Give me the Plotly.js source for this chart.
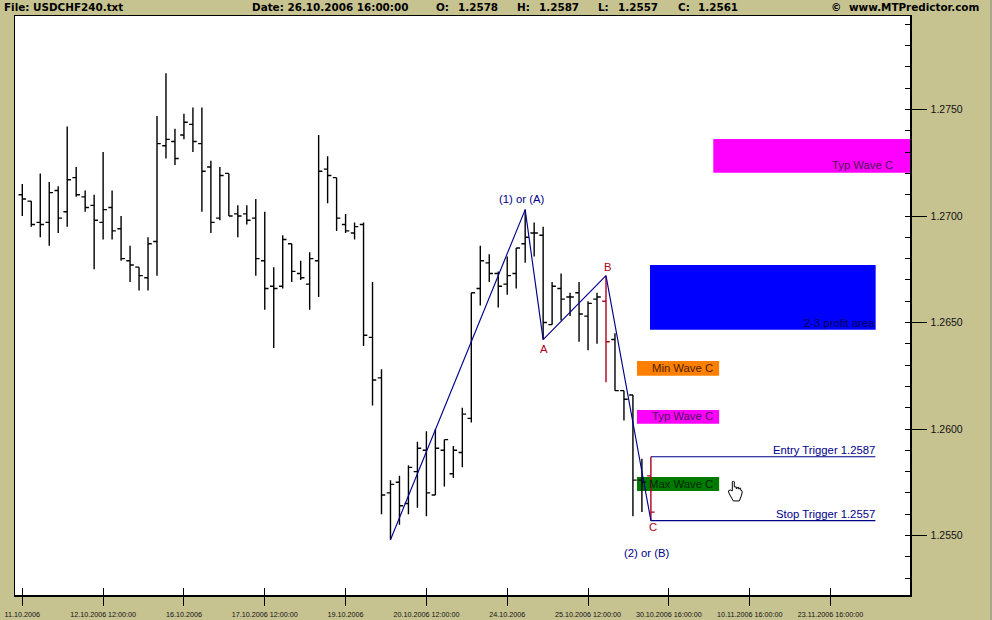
<!DOCTYPE html>
<html><head><meta charset="utf-8">
<script src="https://cdn.plot.ly/plotly-3.0.1.min.js"></script>
<style>html,body{margin:0;padding:0;background:#C7C391;overflow:hidden}#c{width:992px;height:620px}</style>
</head><body><div id="c"></div>
<script>
// OHLC, one entry per bar
const opens = [1.2710,1.2707,1.2697,1.2697,1.2712,1.2702,1.2718,1.2709,1.2705,1.2697,1.2704,1.2694,1.2679,1.2676,1.2671,1.2688,1.2733,1.2735,1.2738,1.2743,1.2734,1.2723,1.2699,1.2720,1.2701,1.2701,1.2699,1.2679,1.2667,1.2667,1.2687,1.2673,1.2668,1.2679,1.2722,1.2718,1.2696,1.2692,1.2696,1.2643,1.2624,1.2570,1.2575,1.2565,1.2580,1.2590,1.2569,1.2590,1.2579,1.2589,1.2605,1.2666,1.2678,1.2673,1.2668,1.2673,1.2687,1.2692,1.2691,1.2649,1.2666,1.2662,1.2664,1.2653,1.2661,1.2660,1.2642,1.2618,1.2616,1.2576,1.2578];
const highs = [1.2715,1.2707,1.2720,1.2716,1.2714,1.2742,1.2723,1.2712,1.2710,1.2730,1.2712,1.2700,1.2686,1.2676,1.2690,1.2747,1.2767,1.2741,1.2748,1.2751,1.2751,1.2726,1.2723,1.2720,1.2705,1.2705,1.2708,1.2702,1.2676,1.2691,1.2687,1.2679,1.2683,1.2738,1.2728,1.2718,1.2701,1.2697,1.2697,1.2669,1.2628,1.2576,1.2578,1.2583,1.2594,1.2599,1.2600,1.2595,1.2592,1.2610,1.2664,1.2686,1.2682,1.2674,1.2681,1.2685,1.2703,1.2697,1.2695,1.2669,1.2673,1.2664,1.2669,1.2660,1.2664,1.2672,1.2645,1.2618,1.2616,1.2586,1.2587];
const lows  = [1.2700,1.2695,1.2690,1.2686,1.2692,1.2695,1.2709,1.2702,1.2675,1.2689,1.2689,1.2679,1.2669,1.2665,1.2665,1.2672,1.2727,1.2724,1.2736,1.2730,1.2702,1.2692,1.2698,1.2700,1.2690,1.2696,1.2672,1.2656,1.2638,1.2666,1.2669,1.2670,1.2656,1.2662,1.2706,1.2693,1.2692,1.2689,1.2639,1.2611,1.2560,1.2548,1.2555,1.2560,1.2563,1.2559,1.2569,1.2573,1.2577,1.2582,1.2603,1.2658,1.2669,1.2657,1.2663,1.2666,1.2678,1.2681,1.2642,1.2649,1.2651,1.2653,1.2641,1.2637,1.2640,1.2622,1.2618,1.2604,1.2559,1.2561,1.2557];
const closes= [1.2708,1.2696,1.2696,1.2711,1.2699,1.2717,1.2710,1.2704,1.2698,1.2703,1.2693,1.2680,1.2677,1.2672,1.2687,1.2734,1.2736,1.2727,1.2744,1.2735,1.2721,1.2697,1.2719,1.2700,1.2700,1.2698,1.2680,1.2666,1.2666,1.2689,1.2674,1.2671,1.2680,1.2721,1.2719,1.2699,1.2693,1.2695,1.2644,1.2623,1.2569,1.2574,1.2564,1.2582,1.2591,1.2570,1.2591,1.2595,1.2590,1.2607,1.2664,1.2679,1.2673,1.2667,1.2672,1.2685,1.2690,1.2692,1.2650,1.2667,1.2661,1.2662,1.2654,1.2659,1.2662,1.2641,1.2618,1.2614,1.2576,1.2575,1.2561];
const redBars = [65,70];

const tickIndex = [0,9,18,27,36,45,54,63,72,81,90];
const tickDates = ['11.10.2006','12.10.2006 12:00:00','16.10.2006','17.10.2006 12:00:00','19.10.2006','20.10.2006 12:00:00','24.10.2006','25.10.2006 12:00:00','30.10.2006 16:00:00','10.11.2006 16:00:00','23.11.2006 16:00:00'];

const waveX = [41,56,58,65,70];
const waveY = [1.2548,1.2703,1.2642,1.2672,1.2557];
const triggerX = [70,95];
const entryPrice = 1.2587;
const stopPrice = 1.2557;

const zoneNames = ['Typ Wave C','2-3 profit area','Min Wave C','Typ Wave C','Max Wave C'];
const zoneStart = [76.95,69.9,68.45,68.45,68.45];
const zoneEnd   = [110,95.03,77.6,77.6,77.6];
const zoneHigh  = [1.27362,1.26770,1.26319,1.26089,1.25775];
const zoneLow   = [1.27203,1.26466,1.26250,1.26025,1.25709];
const zoneColors= ['#FF00FF','#0000FF','#FF8000','#FF00FF','#007A00'];
const zoneInk   = ['#4A1A55','#000050','#4A1E00','#4A1A55','#002800'];
const zoneTextEnd=[97.1,95.1,77.0,77.0,77.0];
const zoneTextY = [1.27239,1.26500,1.26286,1.26059,1.25742];

const noteText = ['(1) or (A)','(2) or (B)','Entry Trigger 1.2587','Stop Trigger 1.2557'];
const noteX = [55.6,69.5,95.1,95.1];
const noteY = [1.27080,1.25418,1.25901,1.25603];
const noteAnchor = ['center','center','right','right'];
const waveLetters = ['A','B','C'];
const letterX = [58.1,65.2,70.2];
const letterY = [1.26376,1.26761,1.25540];

const headerText = ['File: USDCHF240.txt','Date: 26.10.2006 16:00:00','O:','1.2578','H:','1.2587','L:','1.2557','C:','1.2561','©','www.MTPredictor.com'];
const headerPx = [3,251,435,457,516,538,597,617,677,697,830,848];

const NAVY='#00008B', RED='#B00020', BG='#C7C391';
const black = {x:[],o:[],h:[],l:[],c:[]}, red = {x:[],o:[],h:[],l:[],c:[]};
opens.forEach((v,i)=>{const t=redBars.includes(i)?red:black;t.x.push(i);t.o.push(v);t.h.push(highs[i]);t.l.push(lows[i]);t.c.push(closes[i]);});
const ohlc=(t,col)=>({type:'ohlc',x:t.x,open:t.o,high:t.h,low:t.l,close:t.c,tickwidth:0.42,hoverinfo:'skip',
  increasing:{line:{color:col,width:1.4}},decreasing:{line:{color:col,width:1.4}}});

const data=[
 ohlc(black,'#000000'),
 ohlc(red,RED),
 {type:'scatter',mode:'lines',x:waveX,y:waveY,line:{color:NAVY,width:1.15},hoverinfo:'skip'},
 {type:'scatter',mode:'lines',x:triggerX,y:[entryPrice,entryPrice],line:{color:NAVY,width:1.1},hoverinfo:'skip'},
 {type:'scatter',mode:'lines',x:triggerX,y:[stopPrice,stopPrice],line:{color:NAVY,width:1.1},hoverinfo:'skip'},
 {type:'scatter',mode:'markers',x:[0],y:[1.26],xaxis:'x2',yaxis:'y2',marker:{opacity:0,size:1},hoverinfo:'skip'}
];

const xRange=[-0.813,98.854], yRange=[1.252207,1.279390];
const shapes=zoneNames.map((n,i)=>({type:'rect',layer:'below',xref:'x',yref:'y',x0:zoneStart[i],x1:zoneEnd[i],y0:zoneLow[i],y1:zoneHigh[i],fillcolor:zoneColors[i],line:{width:0}}));
// mouse pointer hand
shapes.push({type:'path',xref:'x',yref:'y',xsizemode:'pixel',ysizemode:'pixel',xanchor:79.4,yanchor:1.25714,
  path:'M-3,-1 L-3,8 Q-2,10 -1,8 L-1,3 L1,3 L1,1 L3,3 L3,1 L5,2 L5,0 L6,0 L7,-2 L6,-6 L4,-11 L-2,-11 L-6,-4 L-7,-1 L-5,0 Z',
  fillcolor:'#FFFFFF',line:{color:'#000000',width:1},layer:'above'});
shapes.push({type:'line',xref:'paper',yref:'paper',x0:(991-15)/895,x1:(991-15)/895,y0:-25/579,y1:1+16/579,line:{color:'#8A8A80',width:1}});

const annotations=[];
const ann=(text,x,y,anchor,color)=>annotations.push({text,x,y,xref:'x',yref:'y',xanchor:anchor,yanchor:'middle',showarrow:false,borderpad:0,font:{family:'Liberation Sans, Arial, sans-serif',size:11.3,color}});
zoneNames.forEach((n,i)=>ann(n,zoneTextEnd[i],zoneTextY[i],'right',zoneInk[i]));
noteText.forEach((n,i)=>ann(n,noteX[i],noteY[i],noteAnchor[i],NAVY));
waveLetters.forEach((n,i)=>ann(n,letterX[i],letterY[i],'center',RED));
headerText.forEach((t,i)=>annotations.push({text:t,xref:'paper',yref:'paper',x:(headerPx[i]-15)/895,y:1+(16-6.5)/579,xanchor:'left',yanchor:'middle',showarrow:false,borderpad:0,
  font:{family:'DejaVu Sans, sans-serif',size:10.4,color:'#000000',weight:700}}));

const axisBase={showgrid:false,zeroline:false};
const layout={width:992,height:620,margin:{l:15,r:82,t:16,b:25,pad:0},paper_bgcolor:BG,plot_bgcolor:'#FFFFFF',showlegend:false,
 font:{family:'Liberation Sans, Arial, sans-serif',color:'#000000'},
 xaxis:{...axisBase,range:xRange,rangeslider:{visible:false},tickmode:'array',tickvals:tickIndex,ticktext:tickDates,ticks:'outside',ticklen:9,tickwidth:1,tickcolor:'#000',ticklabelstandoff:3,
   showline:true,mirror:true,linecolor:'#000',linewidth:1.5,tickfont:{size:7.2,family:'Liberation Sans, Arial, sans-serif',color:'#111'},tickangle:0,automargin:false},
 yaxis:{...axisBase,range:yRange,side:'right',tick0:1.25,dtick:0.005,tickformat:'.4f',ticks:'outside',ticklen:15,tickwidth:1,tickcolor:'#000',ticklabelstandoff:2,
   showline:true,mirror:true,linecolor:'#000',linewidth:1.5,tickfont:{size:10.5,color:'#111'},automargin:false},
 xaxis2:{...axisBase,range:xRange,overlaying:'x',anchor:'y2',side:'bottom',tickmode:'array',tickvals:tickIndex,ticktext:tickDates.map(()=>''),showticklabels:false,ticks:'inside',ticklen:7,tickwidth:1,tickcolor:'#000'},
 yaxis2:{...axisBase,range:yRange,overlaying:'y',anchor:'x2',side:'right',tick0:1.25,dtick:0.001,showticklabels:false,ticks:'inside',ticklen:5,tickwidth:1,tickcolor:'#000'},
 shapes,annotations};
Plotly.newPlot('c',data,layout,{staticPlot:true,displayModeBar:false});
</script></body></html>
